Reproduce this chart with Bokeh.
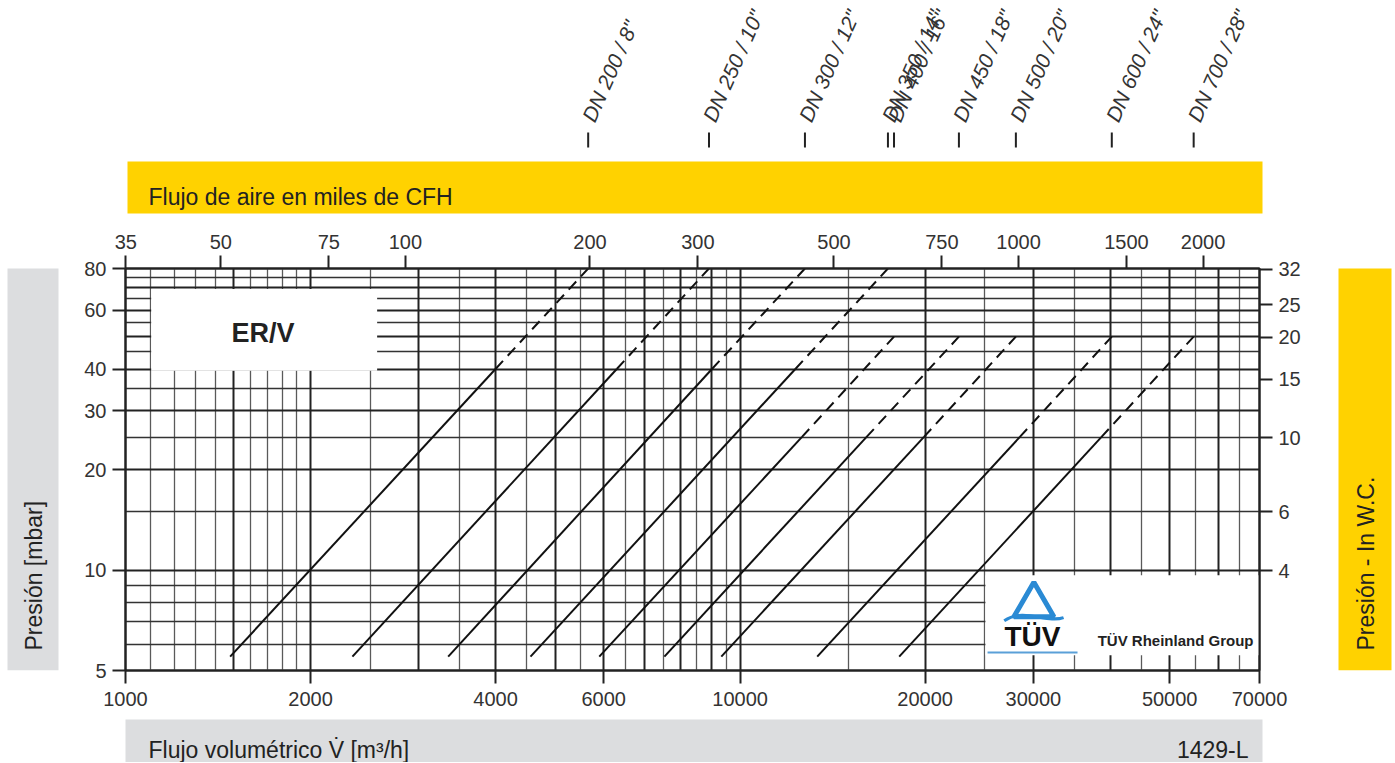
import math
from bokeh.plotting import figure
from bokeh.layouts import column, row
from bokeh.models import (Range1d, LogScale, LogAxis, FixedTicker, Grid, Label,
                          PrintfTickFormatter, BoxAnnotation)
from bokeh.embed import file_html
from bokeh.resources import INLINE

# ---------------- data ----------------
dn_labels = ['DN 200 / 8"', 'DN 250 / 10"', 'DN 300 / 12"', 'DN 350 / 14"', 'DN 400 / 16"',
             'DN 450 / 18"', 'DN 500 / 20"', 'DN 600 / 24"', 'DN 700 / 28"']
# flow [m3/h] and pressure [mbar] at start of line, end of solid part, end of dashed part
q_start = [1480, 2340, 3350, 4560, 5900, 7530, 9320, 13350, 18150]
p_start = [5.5, 5.5, 5.5, 5.5, 5.5, 5.5, 5.5, 5.5, 5.5]
q_knee = [4000, 6300, 9000, 12300, 12600, 16050, 19900, 28500, 38700]
p_knee = [40, 40, 40, 40, 25, 25, 25, 25, 25]
q_end = [5660, 8900, 12750, 17400, 17800, 22700, 28100, 40250, 54700]
p_end = [80, 80, 80, 80, 50, 50, 50, 50, 50]

x_ticks = [1000, 2000, 4000, 6000, 10000, 20000, 30000, 50000, 70000]
y_ticks = [5, 10, 20, 30, 40, 60, 80]
cfh_ticks = [35, 50, 75, 100, 200, 300, 500, 750, 1000, 1500, 2000]
wc_ticks = [2, 4, 6, 10, 15, 20, 25, 32]

x_grid_bold = [1500, 2000, 3000, 4000, 5000, 6000, 7000, 8000, 9000, 10000,
               20000, 30000, 40000, 50000, 60000]
x_grid_thin = [1100, 1200, 1300, 1400, 1600, 1700, 1800, 1900, 2500, 3500, 4500, 5500,
               6500, 7500, 8500, 9500, 15000, 25000, 35000, 45000, 55000, 65000]
y_grid_bold = [10, 20, 30, 40, 50, 60, 70]
y_grid_thin = [6, 7, 8, 9, 15, 25, 35, 45, 55, 65, 75]

X_MIN, X_MAX = 1000, 70000
Y_MIN, Y_MAX = 5, 80
KCFH_PER_M3H = 0.0353147      # thousand CFH per m3/h
MBAR_PER_INWC = 2.4884

FONT = "Liberation Sans"
YELLOW = "#FFD200"
GRAY = "#DCDDDF"
INK = "#222222"

# ---------------- page geometry (px) ----------------
PAGE_W = 1394
TOP_H = 215           # strip with nominal sizes and CFH band
ROW_H = 502           # main chart row
BOT_H = 45            # bottom band strip
LEFT_W = 60
RIGHT_W = 64
FRAME_W, FRAME_H = 1134, 402
MAIN_BL, MAIN_BT, MAIN_BB = 65, 53, 47
MAIN_W = PAGE_W - LEFT_W - RIGHT_W
FRAME_X0 = LEFT_W + MAIN_BL            # page x of the chart frame's left edge
FRAME_Y0 = TOP_H + MAIN_BT             # page y of the chart frame's top edge


def strip(width, height, x_range, y_range, x_axis_type="linear"):
    f = figure(width=width, height=height, x_range=x_range, y_range=y_range,
               x_axis_type=x_axis_type, x_axis_location=None, y_axis_location=None,
               min_border=0, output_backend="svg", toolbar_location=None,
               background_fill_color="white", border_fill_color="white")
    f.outline_line_color = None
    f.grid.visible = False
    return f


def add_label(f, x, y, text, size="23px", align="left", baseline="alphabetic", angle=0.0,
              style="normal", color=INK, x_units="data", y_units="data"):
    f.add_layout(Label(x=x, y=y, x_units=x_units, y_units=y_units, text=text,
                       text_font=FONT, text_font_size=size, text_color=color,
                       text_align=align, text_baseline=baseline, angle=angle,
                       text_font_style=style))


# ---------------- main chart ----------------
p = figure(x_axis_type="log", y_axis_type="log",
           x_range=Range1d(X_MIN, X_MAX), y_range=Range1d(Y_MIN, Y_MAX),
           frame_width=FRAME_W, frame_height=FRAME_H,
           min_border_left=MAIN_BL, min_border_right=MAIN_W - MAIN_BL - FRAME_W,
           min_border_top=MAIN_BT, min_border_bottom=MAIN_BB,
           output_backend="svg", toolbar_location=None,
           background_fill_color="white", border_fill_color="white")
p.outline_line_color = INK
p.outline_line_width = 2
p.xgrid.visible = False
p.ygrid.visible = False

p.extra_x_ranges = {"cfh": Range1d(34.95, X_MAX * KCFH_PER_M3H)}
p.extra_x_scales = {"cfh": LogScale()}
p.extra_y_ranges = {"wc": Range1d(Y_MIN / MBAR_PER_INWC, Y_MAX / MBAR_PER_INWC)}
p.extra_y_scales = {"wc": LogScale()}


def style_axis(ax, ticks, standoff):
    ax.ticker = FixedTicker(ticks=ticks)
    ax.formatter = PrintfTickFormatter(format="%d")
    ax.axis_line_color = INK
    ax.axis_line_width = 2
    ax.major_tick_line_color = INK
    ax.major_tick_line_width = 2
    ax.major_tick_in = 0
    ax.major_tick_out = 13
    ax.minor_tick_line_color = None
    ax.major_label_text_font = FONT
    ax.major_label_text_font_size = "20px"
    ax.major_label_text_color = "#333333"
    ax.major_label_standoff = standoff


style_axis(p.below[0], x_ticks, 8)
style_axis(p.left[0], y_ticks, 6)

top_axis = LogAxis(x_range_name="cfh")
style_axis(top_axis, cfh_ticks, 7)
p.add_layout(top_axis, "above")

right_axis = LogAxis(y_range_name="wc")
style_axis(right_axis, wc_ticks, 6)
p.add_layout(right_axis, "right")

for dim, ticks, color, width in [(0, x_grid_thin, "#5a5a5a", 1.3), (1, y_grid_thin, "#333333", 1.3),
                                 (0, x_grid_bold, INK, 2), (1, y_grid_bold, INK, 2)]:
    p.add_layout(Grid(dimension=dim, ticker=FixedTicker(ticks=ticks),
                      grid_line_color=color, grid_line_width=width))

# white boxes inside the chart (title box and logo box)
ERV_BOX = dict(left=1101, right=2567, bottom=39.5, top=69.5)
TUV_BOX = dict(left=25070, right=70000, bottom=5.55, top=9.65)
for b in (ERV_BOX, TUV_BOX):
    p.quad(left=[b["left"]], right=[b["right"]], bottom=[b["bottom"]], top=[b["top"]],
           fill_color="white", line_color=None)

# characteristic lines
p.multi_line(xs=[[a, b] for a, b in zip(q_start, q_knee)],
             ys=[[a, b] for a, b in zip(p_start, p_knee)],
             line_color="#111111", line_width=2)
p.multi_line(xs=[[a, b] for a, b in zip(q_knee, q_end)],
             ys=[[a, b] for a, b in zip(p_knee, p_end)],
             line_color="#111111", line_width=2, line_dash="11 7")

add_label(p, 1674, 51.3, "ER/V", size="27px", align="center", baseline="middle", style="bold")
# TÜV logo
p.scatter(x=[30060], y=[7.84], marker="triangle", size=40, fill_color=None,
          line_color="#2a8ad4", line_width=5)
p.bezier(x0=[26900], y0=[7.05], x1=[33600], y1=[7.2], cx0=[29000], cy0=[7.75],
         cx1=[31500], cy1=[6.9], line_color="#2a8ad4", line_width=3)
add_label(p, 29900, 6.32, "TÜV", size="28px", align="center", baseline="middle",
          style="bold", color="#111111")
p.segment(x0=[25270], x1=[35400], y0=[5.66], y1=[5.66], line_color="#5aa0d8", line_width=2)
add_label(p, 68440, 6.15, "TÜV Rheinland Group", size="15px", align="right",
          baseline="middle", style="bold", color="#222222")

# ---------------- top strip: nominal sizes + CFH band ----------------
px_per_dec = FRAME_W / math.log10(X_MAX / X_MIN)
top_x = Range1d(X_MIN * 10 ** (-FRAME_X0 / px_per_dec),
                X_MIN * 10 ** ((PAGE_W - FRAME_X0) / px_per_dec))
top = strip(PAGE_W, TOP_H, top_x, Range1d(TOP_H, 0), x_axis_type="log")
top.add_layout(BoxAnnotation(left=127, right=1262, left_units="screen", right_units="screen",
                             top=161, bottom=213, fill_color=YELLOW, fill_alpha=1,
                             line_color=None))
add_label(top, 148, 196, "Flujo de aire en miles de CFH", x_units="screen")
top.segment(x0=q_end, x1=q_end, y0=[132] * len(q_end), y1=[147] * len(q_end),
            line_color=INK, line_width=2)
for q, name in zip(q_end, dn_labels):
    add_label(top, q, 120, name, size="21px", angle=math.radians(66), style="italic",
              color="#333333")

# ---------------- side strips (their frames line up with the chart frame) ----------------
side_y = (FRAME_Y0 + FRAME_H, FRAME_Y0)
left = strip(LEFT_W, ROW_H, Range1d(0, LEFT_W), Range1d(*side_y))
left.quad(left=[7], right=[58], top=[263], bottom=[670], fill_color=GRAY, line_color=None)
add_label(left, 33, 650, "Presión [mbar]", baseline="middle", angle=math.pi / 2)

right = strip(RIGHT_W, ROW_H, Range1d(PAGE_W - RIGHT_W, PAGE_W), Range1d(*side_y))
right.quad(left=[1338], right=[1391], top=[265], bottom=[670], fill_color=YELLOW, line_color=None)
add_label(right, 1365, 650, "Presión - In W.C.", baseline="middle", angle=math.pi / 2)

# ---------------- bottom strip ----------------
y0 = TOP_H + ROW_H
bottom = strip(PAGE_W, BOT_H, Range1d(0, PAGE_W), Range1d(y0 + BOT_H, y0))
bottom.quad(left=[125], right=[1262], top=[719], bottom=[y0 + BOT_H], fill_color=GRAY,
            line_color=None)
add_label(bottom, 148, 749, "Flujo volumétrico V\u0307 [m³/h]")
add_label(bottom, 1248, 749, "1429-L", align="right")

layout = column(top, row(left, p, right), bottom)
open("out.html", "w").write(file_html(layout, INLINE))
